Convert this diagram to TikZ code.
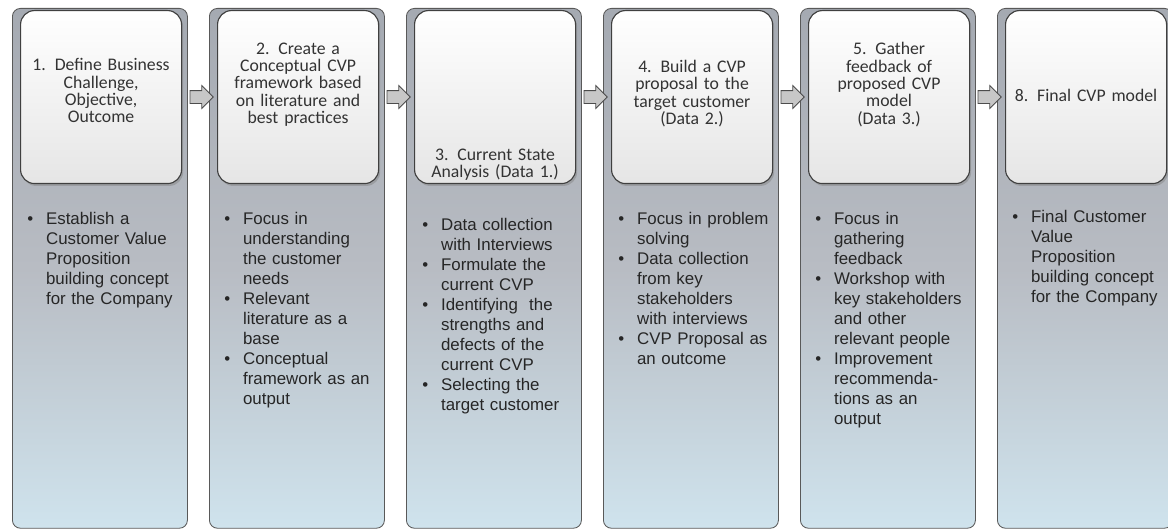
\documentclass[tikz,border=0pt]{standalone}
\usepackage{fontspec}
\setmainfont{Liberation Sans}
\newfontfamily\headfont{Carlito}
\usetikzlibrary{positioning,shapes.arrows,shadows,calc}

\definecolor{panTop}{RGB}{165,170,178}
\definecolor{panMid}{RGB}{184,188,195}
\definecolor{panBot}{RGB}{207,227,237}

\newcommand{\bitem}[1]{\hangindent=0.47cm\hangafter=1\noindent\makebox[0.47cm][l]{\textbullet}{\let\\\newline#1}\par}

\tikzset{
  panel/.style={draw=black!65, line width=0.6pt, rounded corners=0.2cm,
    top color=panTop, bottom color=panBot, middle color=panMid,
    minimum width=4.375cm, minimum height=12.995cm, anchor=north west, inner sep=0},
  headbox/.style={draw=black!75, line width=0.8pt, rounded corners=0.35cm,
    top color=white, bottom color=black!10,
    drop shadow={shadow xshift=0.04cm, shadow yshift=-0.06cm, opacity=0.45},
    minimum width=4.025cm, minimum height=4.325cm, anchor=north west, inner sep=0},
  headtext/.style={font=\headfont\fontsize{12.6}{12.3}\selectfont, text width=3.9cm,
    align=center, text=black!80, inner sep=0},
  body/.style={font=\fontsize{12}{14.2}\selectfont, text width=4cm, align=left,
    anchor=north west, inner sep=0, text=black!85},
  flowarrow/.style={single arrow, draw=black!70, fill=black!22, line width=0.6pt,
    inner sep=0.15cm, minimum height=0.58cm, single arrow head extend=0.125cm}
}

\begin{document}
\begin{tikzpicture}
\useasboundingbox (0,0) rectangle (29.2,13.225);

\foreach \i/\dy/\head in {
	1/0.16cm/{1. Define Business\\Challenge,\\Objective,\\Outcome},
	2/0.31cm/{2. Create a\\Conceptual CVP\\framework based\\on literature and\\best practices},
	3/-1.69cm/{3. Current State\\Analysis (Data 1.)},
	4/0.09cm/{4. Build a CVP\\proposal to the\\target customer\\(Data 2.)},
	5/0.31cm/{5. Gather\\feedback of\\proposed CVP\\model\\(Data 3.)},
	6/0.04cm/{8. Final CVP model}}
{
\node[panel] (pan\i) at ({0.3+(\i-1)*4.925}, 13.025) {};
\node[headbox] (hd\i) at ([xshift=0.2cm, yshift=-0.05cm]pan\i.north west) {};
\node[headtext] (ht\i) at ([yshift=\dy]hd\i.center) {\head};
}

\foreach \i [evaluate=\i as \j using int(\i+1)] in {1,...,5}
\node[flowarrow] (arr\i) at ($(pan\i.east |- hd\i.center)!0.5!(pan\j.west |- hd\j.center)$) {};

\node[body] (tx1) at ([xshift=0.375cm, yshift=-5.1cm]pan1.north west) {
	\bitem{Establish a\\Customer Value\\Proposition\\building concept\\for the Company}};
\node[body] (tx2) at ([xshift=0.375cm, yshift=-5.1cm]pan2.north west) {
	\bitem{Focus in\\understanding\\the customer\\needs}
	\bitem{Relevant\\literature as a\\base}
	\bitem{Conceptual\\framework as an\\output}};
\node[body] (tx3) at ([xshift=0.4cm, yshift=-5.25cm]pan3.north west) {
	\bitem{Data collection\\with Interviews}
	\bitem{Formulate the\\current CVP}
	\bitem{Identifying~ the\\strengths and\\defects of the\\current CVP}
	\bitem{Selecting the\\target customer}};
\node[body] (tx4) at ([xshift=0.375cm, yshift=-5.1cm]pan4.north west) {
	\bitem{Focus in problem\\solving}
	\bitem{Data collection\\from key\\stakeholders\\with interviews}
	\bitem{CVP Proposal as\\an outcome}};
\node[body] (tx5) at ([xshift=0.375cm, yshift=-5.1cm]pan5.north west) {
	\bitem{Focus in\\gathering\\feedback}
	\bitem{Workshop with\\key stakeholders\\and other\\relevant people}
	\bitem{Improvement\\recommenda-\\tions as an\\output}};
\node[body] (tx6) at ([xshift=0.375cm, yshift=-5.05cm]pan6.north west) {
	\bitem{Final Customer\\Value\\Proposition\\building concept\\for the Company}};

\end{tikzpicture}
\end{document}
